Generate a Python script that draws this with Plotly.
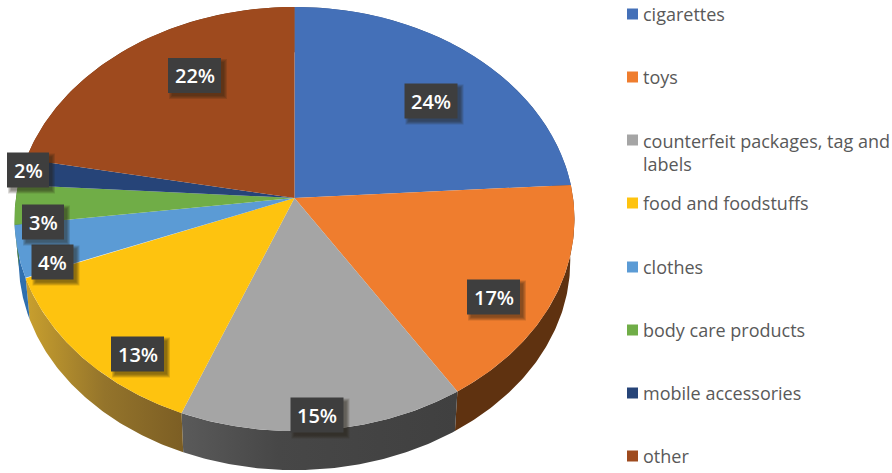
import numpy as np
import plotly.graph_objects as go

# Share of seized goods by product category
categories = ["cigarettes", "toys", "counterfeit packages, tag and<br>labels",
              "food and foodstuffs", "clothes", "body care products",
              "mobile accessories", "other"]
shares = [24, 17, 15, 13, 4, 3, 2, 22]
face_colors = ["#4470b8", "#ef7d2e", "#a5a5a5", "#fec30f",
               "#5b9bd5", "#70ad47", "#264478", "#9e4a1e"]
wall_colors = ["#2f4e80", "#5f3210", "#424242", "#8f6f2c",
               "#2f6fae", "#4a7a30", "#1a2f55", "#6e3310"]

# Centre of each value tag and of each key row, in page pixels
tag_x = [431, 493.5, 317, 137.5, 52.5, 43, 28, 194.5]
tag_y = [101, 297, 415, 354, 262, 222, 170, 75.5]
key_y = [14, 77, 140, 203, 267, 330, 393, 456]
key_x = 632.5
key_text_x = 641

# Tilted-disc projection of the pie
APEX_X, APEX_Y = 294.5, 198
RADIUS_X, RADIUS_Y = 278.6, 210
PERSPECTIVE = 0.099
DEPTH, BASE_SCALE = 42.5, 0.985


def rim(turn_from, turn_to, scale=1.0, drop=0.0):
    theta = np.radians(np.linspace(turn_from, turn_to, 90))
    w = 1 + PERSPECTIVE * np.cos(theta)
    px = APEX_X + scale * RADIUS_X * np.sin(theta) / w
    py = APEX_Y + drop - scale * RADIUS_Y * np.cos(theta) / w
    return px, py


edges = np.cumsum([0] + shares) * 3.6
fig = go.Figure()

# Side walls go first, the top face covers whatever is hidden behind it
for i, name in enumerate(categories):
    tx, ty = rim(edges[i], edges[i + 1])
    bx, by = rim(edges[i], edges[i + 1], BASE_SCALE, DEPTH)
    style = dict(fillcolor=wall_colors[i])
    if i == 2:
        style = dict(fillgradient=dict(type="horizontal",
                                       colorscale=[[0, "#5a5a5a"], [0.35, "#474747"], [1, "#404040"]]))
    if i == 3:
        style = dict(fillgradient=dict(type="horizontal",
                                       colorscale=[[0, "#c9a02e"], [0.5, "#94742b"], [1, "#7c5e24"]]))
    fig.add_trace(go.Scatter(x=np.r_[tx, bx[::-1]], y=np.r_[ty, by[::-1]], mode="lines",
                             fill="toself", line=dict(width=0), showlegend=False,
                             hoverinfo="skip", **style))

for i, name in enumerate(categories):
    tx, ty = rim(edges[i], edges[i + 1])
    fig.add_trace(go.Scatter(x=np.r_[APEX_X, tx, APEX_X], y=np.r_[APEX_Y, ty, APEX_Y], mode="lines",
                             fill="toself", fillcolor=face_colors[i], line=dict(width=0),
                             name=name.replace("<br>", " "), showlegend=False,
                             hoveron="fills", text=f"{shares[i]}%"))

# Key swatches
fig.add_trace(go.Scatter(x=[key_x] * len(categories), y=key_y, mode="markers",
                         marker=dict(symbol="square", size=11, color=face_colors),
                         showlegend=False, hoverinfo="skip"))

shapes, annotations = [], []
TAG_W, TAG_H = 53, 35
TAG_SMALL_W = 42
for i, share in enumerate(shares):
    w = TAG_SMALL_W if share < 10 else TAG_W
    # soft drop shadow built from stacked translucent rectangles
    for grow in (3, 2, 1, 0):
        shapes.append(dict(type="rect", layer="above", line_width=0,
                           fillcolor="rgba(40,30,20,0.16)",
                           x0=tag_x[i] - w / 2 + 4 - grow, x1=tag_x[i] + w / 2 + 3 + grow,
                           y0=tag_y[i] - TAG_H / 2 + 4 - grow, y1=tag_y[i] + TAG_H / 2 + 3 + grow))
    shapes.append(dict(type="rect", layer="above", line_width=0, fillcolor="#3e3e3e",
                       x0=tag_x[i] - w / 2, x1=tag_x[i] + w / 2,
                       y0=tag_y[i] - TAG_H / 2, y1=tag_y[i] + TAG_H / 2))
    annotations.append(dict(x=tag_x[i], y=tag_y[i], text=f"{share}%", showarrow=False,
                            xanchor="center", yanchor="middle",
                            font=dict(family="Open Sans", size=20, color="white", weight=600)))

for name, y in zip(categories, key_y):
    n_lines = name.count("<br>")
    annotations.append(dict(x=key_text_x, y=y + 12 * n_lines, text=name, showarrow=False, xanchor="left",
                            yanchor="middle", align="left",
                            font=dict(family="Open Sans", size=18, color="#595959")))

fig.update_layout(
    width=892, height=473, margin=dict(l=0, r=0, t=0, b=0),
    paper_bgcolor="white", plot_bgcolor="white", showlegend=False,
    xaxis=dict(range=[0, 892], visible=False, fixedrange=True),
    yaxis=dict(range=[473, 0], visible=False, fixedrange=True),
    shapes=shapes, annotations=annotations,
)
fig.write_html("out.html")
